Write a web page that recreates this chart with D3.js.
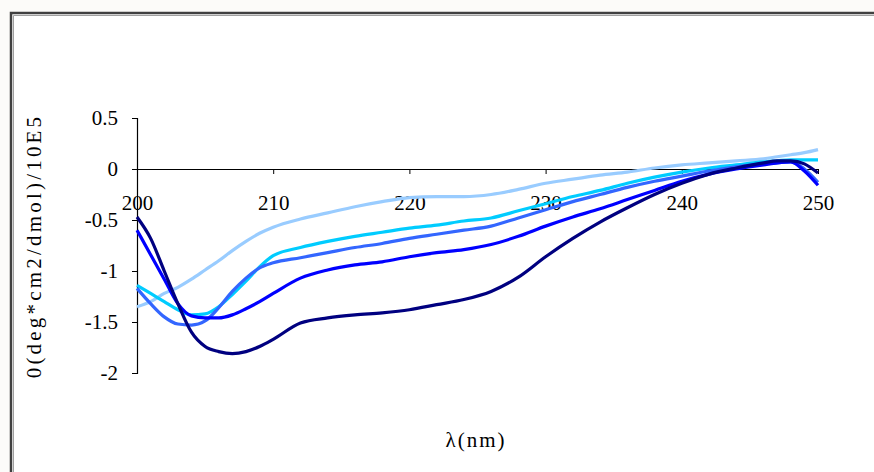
<!DOCTYPE html>
<html>
<head>
<meta charset="utf-8">
<script src="https://cdn.jsdelivr.net/npm/d3@7"></script>
<style>
  body { margin: 0; background: #fcfbf9; }
</style>
</head>
<body>
<div class="chart"></div>
<script>
// wavelengths (nm) sampled along the curves
var lambda = [200, 201, 202, 203, 204, 205, 206, 207, 208, 209, 210, 212, 214, 216, 218, 220, 222, 224, 226, 228, 230, 232, 234, 236, 238, 240, 242, 244, 246, 247, 248, 249, 250];

// CD signal for each sample
var lightBlue = [-1.35, -1.30, -1.22, -1.16, -1.08, -0.99, -0.90, -0.80, -0.71, -0.63, -0.57, -0.49, -0.43, -0.37, -0.32, -0.28, -0.27, -0.27, -0.25, -0.20, -0.14, -0.10, -0.06, -0.03, 0.01, 0.04, 0.06, 0.08, 0.10, 0.12, 0.14, 0.16, 0.19];
var cyan = [-1.14, -1.22, -1.30, -1.38, -1.43, -1.42, -1.35, -1.23, -1.10, -0.96, -0.85, -0.77, -0.71, -0.66, -0.62, -0.58, -0.55, -0.51, -0.48, -0.41, -0.34, -0.27, -0.21, -0.14, -0.08, -0.03, 0.01, 0.04, 0.07, 0.08, 0.09, 0.09, 0.09];
var medBlue = [-1.17, -1.32, -1.45, -1.52, -1.53, -1.49, -1.36, -1.20, -1.07, -0.97, -0.92, -0.87, -0.82, -0.77, -0.73, -0.68, -0.64, -0.60, -0.56, -0.48, -0.40, -0.32, -0.25, -0.18, -0.12, -0.07, -0.02, 0.02, 0.05, 0.06, 0.07, 0.0, -0.13];
var blue = [-0.60, -0.84, -1.08, -1.32, -1.44, -1.46, -1.46, -1.43, -1.37, -1.30, -1.22, -1.07, -0.99, -0.94, -0.91, -0.86, -0.82, -0.79, -0.74, -0.66, -0.56, -0.47, -0.39, -0.30, -0.21, -0.12, -0.05, 0.00, 0.04, 0.06, 0.07, -0.02, -0.16];
var navy = [-0.47, -0.68, -1.00, -1.32, -1.60, -1.74, -1.79, -1.81, -1.79, -1.74, -1.67, -1.51, -1.46, -1.43, -1.41, -1.38, -1.33, -1.28, -1.20, -1.06, -0.86, -0.68, -0.52, -0.38, -0.25, -0.14, -0.05, 0.01, 0.06, 0.08, 0.08, 0.05, -0.04];

var seriesNames = ["s1", "s2", "s3", "s4", "s5"];
var seriesValues = [lightBlue, cyan, medBlue, blue, navy];
var seriesColors = ["#99ccff", "#00ccff", "#3366ff", "#0000ff", "#000080"];

var xTicks = [200, 210, 220, 230, 240, 250];
var yTicks = [0.5, 0, -0.5, -1, -1.5, -2];

var svgWidth = 874;
var svgHeight = 472;
var serif = "Liberation Serif";

var svg = d3.select(".chart")
  .append("svg")
  .attr("width", svgWidth)
  .attr("height", svgHeight)
  .style("display", "block");

// white chart area with the dark frame on top and left
svg.append("rect")
  .attr("x", 11).attr("y", 13)
  .attr("width", svgWidth - 11).attr("height", svgHeight - 13)
  .attr("fill", "#fff");
svg.append("path")
  .attr("d", `M11,${svgHeight} V13 H${svgWidth}`)
  .attr("fill", "none")
  .attr("stroke", "#404040")
  .attr("stroke-width", 2.5);
svg.append("path")
  .attr("d", `M13.5,${svgHeight} V15.5 H${svgWidth}`)
  .attr("fill", "none")
  .attr("stroke", "#a0a0a0")
  .attr("stroke-width", 1);

// scales
var x = d3.scaleLinear().domain([200, 250]).range([137, 818]);
var y = d3.scaleLinear().domain([-2, 0.5]).range([373, 118]);

// y axis
var yAxis = svg.append("g")
  .attr("transform", `translate(${x(200)},0)`)
  .call(d3.axisLeft(y).tickValues(yTicks).tickSize(5).tickPadding(14)
    .tickFormat(d => d3.format("")(d).replace("−", "-")));
yAxis.select(".domain").attr("stroke", "#000").attr("stroke-width", 1.2);
yAxis.selectAll(".tick line").attr("stroke", "#000");
yAxis.selectAll("text").attr("font-family", serif).attr("font-size", 21);

// x axis sits on zero
var xAxis = svg.append("g")
  .attr("transform", `translate(0,${y(0)})`)
  .call(d3.axisBottom(x).tickValues(xTicks).tickSize(5).tickPadding(21).tickSizeOuter(0));
xAxis.select(".domain").attr("stroke", "#000").attr("stroke-width", 1.2);
xAxis.selectAll(".tick line").attr("stroke", "#000");
xAxis.selectAll("text").attr("font-family", serif).attr("font-size", 21);

// curves
var line = d3.line()
  .x((d, i) => x(lambda[i]))
  .y(d => y(d))
  .curve(d3.curveMonotoneX);

svg.append("g")
  .selectAll("path")
  .data(seriesValues)
  .enter()
  .append("path")
  .attr("class", (d, i) => seriesNames[i])
  .attr("d", line)
  .attr("fill", "none")
  .attr("stroke", (d, i) => seriesColors[i])
  .attr("stroke-width", 3.2)
  .attr("stroke-linejoin", "round");

// axis titles
svg.append("text")
  .attr("transform", "translate(41, 246) rotate(-90)")
  .attr("text-anchor", "middle")
  .attr("font-family", serif)
  .attr("font-size", 21)
  .attr("letter-spacing", 3.2)
  .text("0(deg*cm2/dmol)/10E5");

svg.append("text")
  .attr("x", 476)
  .attr("y", 447)
  .attr("text-anchor", "middle")
  .attr("font-family", serif)
  .attr("font-size", 21)
  .attr("letter-spacing", 2)
  .text("λ(nm)");
</script>
</body>
</html>
